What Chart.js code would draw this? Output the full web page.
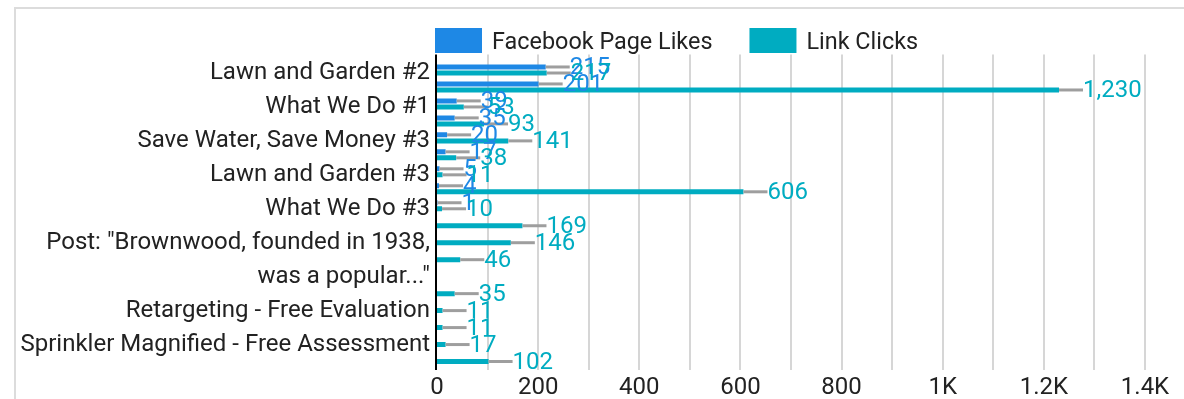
<!DOCTYPE html>
<html>
<head>
<meta charset="utf-8">
<title>Facebook Page Likes and Link Clicks by ad</title>
<script src="https://cdn.jsdelivr.net/npm/chart.js@4.4.1/dist/chart.umd.min.js"></script>
<style>
  html, body { margin: 0; padding: 0; background: #fff; }
  #card {
    position: absolute; left: 14px; top: 7px; width: 1168px; height: 392px;
    border-left: 2px solid #dcdcdc; border-top: 2px solid #dcdcdc;
  }
  #chart { position: absolute; left: 0; top: 0; }
</style>
</head>
<body>
<div id="card"></div>
<canvas id="chart" width="1184" height="399"></canvas>
<script>
// Ad names (only every other row carries a visible name)
const categories = [
  'Lawn and Garden #2', '',
  'What We Do #1', '',
  'Save Water, Save Money #3', '',
  'Lawn and Garden #3', '',
  'What We Do #3', '', '',
  ['Post: "Brownwood, founded in 1938,', 'was a popular..."'], '', '',
  'Retargeting - Free Evaluation', '',
  'Sprinkler Magnified - Free Assessment', ''
];

const pageLikes = [215, 201, 39, 35, 20, 17, 5, 4, 1,
  null, null, null, null, null, null, null, null, null];

const linkClicks = [217, 1230, 53, 93, 141, 38, 11, 606, 10,
  169, 146, 46, null, 35, 11, 11, 17, 102];

// Value axis: a gridline every 100, a label every 200
const xTickLabels = ['0', '', '200', '', '400', '', '600', '', '800', '',
  '1K', '', '1.2K', '', '1.4K'];

const BLUE = '#1e88e5';
const TEAL = '#00acc1';
const FONT = 'Roboto, "Noto Sans", sans-serif';
const FS = 24;          // axis labels and value tags
const LEGEND_FS = 23.4; // legend entries

Chart.defaults.font.family = FONT;
Chart.defaults.font.size = FS;
Chart.defaults.color = '#222';

// Gridlines and the zero line, reaching a little past the plot area
const frameLines = {
  id: 'frameLines',
  beforeDatasetsDraw(chart) {
    const { ctx, chartArea: a, scales: { x } } = chart;
    ctx.save();
    ctx.lineWidth = 2;
    ctx.strokeStyle = '#d6d6d6';
    x.ticks.forEach(t => {
      if (t.value === 0) return;
      const px = Math.round(x.getPixelForValue(t.value));
      ctx.beginPath();
      ctx.moveTo(px, a.top - 7);
      ctx.lineTo(px, a.bottom + 3);
      ctx.stroke();
    });
    ctx.restore();
  },
  afterDatasetsDraw(chart) {
    const { ctx, chartArea: a, scales: { x } } = chart;
    const px = Math.round(x.getPixelForValue(0)) - 1;
    ctx.save();
    ctx.lineWidth = 2;
    ctx.strokeStyle = '#000';
    ctx.beginPath();
    ctx.moveTo(px, a.top - 7);
    ctx.lineTo(px, a.bottom + 3);
    ctx.stroke();
    ctx.restore();
  }
};

// Grey leader line and value at the end of each bar
const valueTags = {
  id: 'valueTags',
  afterDatasetsDraw(chart) {
    const ctx = chart.ctx;
    const items = [];
    chart.data.datasets.forEach((ds, di) => {
      chart.getDatasetMeta(di).data.forEach((bar, i) => {
        const v = ds.data[i];
        if (v === null || v === undefined) return;
        items.push({ x: bar.x, y: bar.y, v, color: ds.backgroundColor });
      });
    });
    ctx.save();
    ctx.strokeStyle = '#9e9e9e';
    ctx.lineWidth = 3;
    items.forEach(it => {
      ctx.beginPath();
      ctx.moveTo(it.x, it.y);
      ctx.lineTo(it.x + 24, it.y);
      ctx.stroke();
    });
    ctx.font = FS + 'px ' + FONT;
    ctx.textAlign = 'left';
    ctx.textBaseline = 'middle';
    items.forEach(it => {
      ctx.fillStyle = it.color;
      ctx.fillText(it.v.toLocaleString('en-US'), it.x + 24, it.y + 1);
    });
    ctx.restore();
  }
};

// Legend row aligned with the left edge of the plot
const legendRow = {
  id: 'legendRow',
  afterDraw(chart) {
    const ctx = chart.ctx;
    let x = chart.chartArea.left - 2;
    const y = 28;
    ctx.save();
    ctx.font = LEGEND_FS + 'px ' + FONT;
    ctx.textAlign = 'left';
    ctx.textBaseline = 'middle';
    chart.data.datasets.forEach(ds => {
      ctx.fillStyle = ds.backgroundColor;
      ctx.fillRect(x, y, 47, 25);
      ctx.fillStyle = '#222';
      ctx.fillText(ds.label, x + 57, y + 15);
      x += 57 + ctx.measureText(ds.label).width + 37;
    });
    ctx.restore();
  }
};

new Chart(document.getElementById('chart'), {
  type: 'bar',
  data: {
    labels: categories,
    datasets: [
      { label: 'Facebook Page Likes', data: pageLikes, backgroundColor: BLUE,
        categoryPercentage: 0.71, barPercentage: 0.83 },
      { label: 'Link Clicks', data: linkClicks, backgroundColor: TEAL,
        categoryPercentage: 0.71, barPercentage: 0.83 }
    ]
  },
  options: {
    indexAxis: 'y',
    responsive: false,
    animation: false,
    devicePixelRatio: 1,
    layout: { padding: { top: 61.5, right: 39, bottom: 0, left: 0 } },
    plugins: { legend: { display: false }, tooltip: { enabled: false } },
    scales: {
      x: {
        min: 0, max: 1400,
        grid: { display: false, drawTicks: false },
        border: { display: false },
        ticks: {
          stepSize: 100, autoSkip: false, maxRotation: 0, padding: 7,
          color: '#222', font: { size: FS },
          callback: (v, i) => xTickLabels[i]
        },
        afterFit: s => { s.height = 32; }
      },
      y: {
        grid: { display: false, drawTicks: false },
        border: { display: false },
        ticks: {
          autoSkip: false, padding: 7, labelOffset: 3.5,
          color: '#222', font: { size: FS, lineHeight: 34 / FS }
        },
        afterFit: s => { s.width = 437; }
      }
    }
  },
  plugins: [frameLines, valueTags, legendRow]
});
</script>
</body>
</html>
